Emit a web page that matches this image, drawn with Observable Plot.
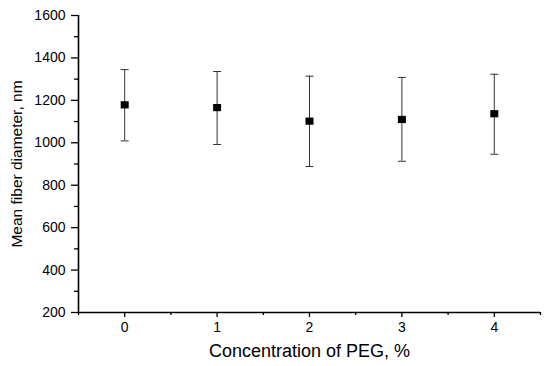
<!DOCTYPE html>
<html>
<head>
<meta charset="utf-8">
<script src="https://cdn.jsdelivr.net/npm/d3@7"></script>
<script src="https://cdn.jsdelivr.net/npm/@observablehq/plot@0.6"></script>
<style>
  body { margin: 0; background: #fff; }
</style>
</head>
<body>
<div id="chart"></div>
<script>
const concentration = [0, 1, 2, 3, 4];
const meanDiameter = [1179, 1166, 1102, 1110, 1137];
const lowerError = [1009, 992, 888, 913, 946];
const upperError = [1345, 1336, 1314, 1308, 1323];
const xTicks = [0, 1, 2, 3, 4];
const xMinorTicks = [-0.5, 0.5, 1.5, 2.5, 3.5, 4.5];
const yTicks = [200, 400, 600, 800, 1000, 1200, 1400, 1600];
const yMinorTicks = [300, 500, 700, 900, 1100, 1300, 1500];

const data = concentration.map((c, i) => ({
  c, mean: meanDiameter[i], lo: lowerError[i], hi: upperError[i]
}));

const capSymbol = {
  draw(ctx, size) {
    const w = Math.sqrt(size / Math.PI);
    ctx.moveTo(-w, 0);
    ctx.lineTo(w, 0);
  }
};
const squareSymbol = {
  draw(ctx, size) {
    const w = Math.sqrt(size / Math.PI);
    ctx.rect(-w, -w * 0.9, 2 * w, 1.8 * w);
  }
};

const chart = Plot.plot({
  width: 550,
  height: 366,
  marginLeft: 78,
  marginRight: 10,
  marginTop: 15,
  marginBottom: 54,
  style: { fontFamily: "'Liberation Sans', Arial, sans-serif", fontSize: "14px", color: "#000", background: "#fff" },
  x: { domain: [-0.5, 4.5] },
  y: { domain: [200, 1600] },
  marks: [
    Plot.axisY({ ticks: yTicks, tickSize: 7, tickPadding: 6, fontSize: 14, tickFormat: d => String(d), label: null, strokeWidth: 1.3 }),
    Plot.axisY({ ticks: yMinorTicks, tickSize: 4, tickFormat: () => "", label: null, strokeWidth: 1.3 }),
    Plot.axisX({ ticks: xTicks, tickSize: 5, tickPadding: 5, fontSize: 14, tickFormat: d => String(d), label: null, strokeWidth: 1.3 }),
    Plot.axisX({ ticks: xMinorTicks, tickSize: 3, tickFormat: () => "", label: null, strokeWidth: 1.3 }),
    Plot.ruleX([-0.5], { y1: 200, y2: 1600, stroke: "#000", strokeWidth: 1.6 }),
    Plot.ruleY([200], { x1: -0.5, x2: 4.5, stroke: "#000", strokeWidth: 1.6 }),
    Plot.ruleX(data, { x: "c", y1: "lo", y2: "hi", stroke: "#333", strokeWidth: 1 }),
    Plot.dot(data, { x: "c", y: "hi", symbol: capSymbol, r: 4, stroke: "#333", strokeWidth: 1 }),
    Plot.dot(data, { x: "c", y: "lo", symbol: capSymbol, r: 4, stroke: "#333", strokeWidth: 1 }),
    Plot.dot(data, { x: "c", y: "mean", symbol: squareSymbol, r: 4, fill: "#000", stroke: "none" }),
    Plot.text(["Concentration of PEG, %"], { frameAnchor: "bottom", dy: 39, fontSize: 18, fill: "#000", lineAnchor: "middle" }),
    Plot.text(["Mean fiber diameter, nm"], { frameAnchor: "left", dx: -61, rotate: -90, textAnchor: "middle", fontSize: 15.5, fill: "#000", lineAnchor: "middle" })
  ]
});
document.getElementById("chart").appendChild(chart);
</script>
</body>
</html>
